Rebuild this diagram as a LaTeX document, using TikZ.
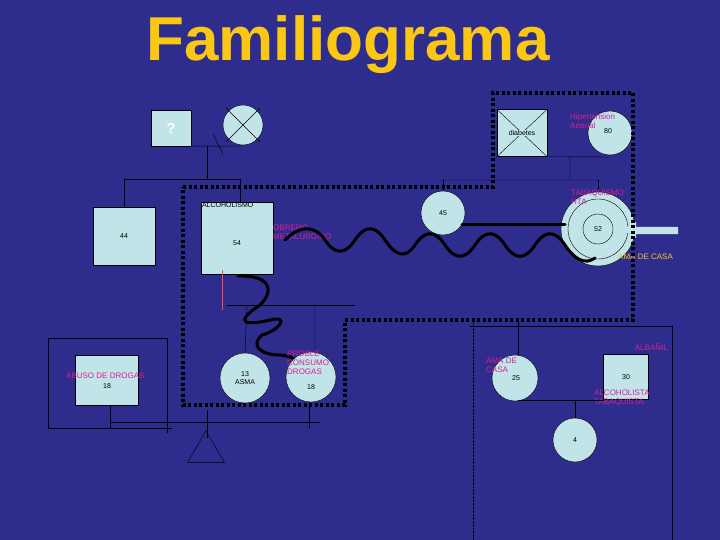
\documentclass[tikz,border=0pt]{standalone}
\usepackage{fontspec}
\setmainfont{Liberation Sans}
\usetikzlibrary{arrows.meta, positioning, shapes.geometric}
\definecolor{bgblue}{RGB}{46,44,140}
\definecolor{boxfill}{RGB}{192,228,232}
\definecolor{tag}{RGB}{220,30,150}
\definecolor{gold}{RGB}{250,200,20}
\tikzset{
  male/.style={draw=black, fill=boxfill, minimum size=#1, inner sep=0pt, font=\scriptsize},
  female/.style={draw=black, fill=boxfill, circle, minimum size=#1, inner sep=0pt, font=\scriptsize},
  note/.style={text=tag, font=\fontsize{8}{9}\selectfont, align=left, inner sep=0pt},
  kin/.style={draw=black, thin},
  bond/.style={draw=black, line width=3pt, line cap=round},
  frame/.style={draw=black, line width=3.5pt, dash pattern=on 3pt off 2.5pt}
}
\begin{document}
\begin{tikzpicture}[x=1pt, y=-1pt]
    \fill[bgblue] (0,0) rectangle (720,540);
    \useasboundingbox (0,0) rectangle (720,540);
    \node[text=gold, font=\fontsize{62}{66}\selectfont\bfseries] (title) at (348,45) {Familiograma};

    % grandparents, left side
    \node[male=36pt, minimum width=40pt, font=\Large\bfseries, text=white] (gf) at (171,128) {?};
    \node[female=40pt] (gm) at (243,125) {};
    \draw[kin] (226,108) -- (260,142) (260,108) -- (226,142);
    \draw[kin] (gf.south east) -- (243,146) (213,134) -- (223,155);
    \draw[kin] (207,146) -- (207,179) (124,179) -- (240,179);
    \node[male=58pt, minimum width=62pt] (u44) at (124,236) {44};
    \node[male=72pt] (f54) at (237,238) {};
    \node[font=\scriptsize] at (f54.center) [yshift=-5pt] {54};
    \node[font=\scriptsize, anchor=north west, inner sep=1pt] at (f54.north west) {ALCOHOLISMO};
    \draw[kin] (124,179) -- (u44.north) (240,179) -- (240,202);
    \node[note, anchor=west] at (273,232) {OBRERO\\METALURGICO};

    % grandparents, right side
    \node[male=47pt, minimum width=50pt] (gd) at (522,133) {};
    \draw[kin] (gd.north west) -- (gd.south east) (gd.south west) -- (gd.north east);
    \node[font=\scriptsize, fill=boxfill, inner sep=0pt] at (gd) {diabetes};
    \node[female=44pt] (g80) at (610,133) {};
    \node[font=\scriptsize] at (g80) [xshift=-2pt, yshift=2pt] {80};
    \node[note, anchor=south west] at (570,129) {Hipertension\\Arterial};
    \draw[kin] (gd.south east) -- (610,157) (570,157) -- (570,180) (440,180) -- (598,180);
    \node[female=44pt] (m45) at (443,213) {45};
    \draw[kin] (443,180) -- (m45.north);
    \node[female=74pt] (m52) at (598,229) {};
    \draw[kin] (m52) circle (30pt) (m52) circle (15pt);
    \node[font=\scriptsize] at (m52) {52};
    \draw[kin] (598,180) -- (m52.north);
    \fill[boxfill] (622,230) -- (636,222) -- (636,227) -- (678,227) -- (678,234) -- (636,234) -- (636,238) -- cycle;
    \node[note, anchor=west] at (571,197) {TABAQUISMO\\HTA};
    \node[note, text=gold, anchor=west] at (618,257) {AMA DE CASA};

    % relationship lines
    \draw[bond] (462,225) -- (565,225);
    \draw[bond] (285,240) .. controls (300,225) and (315,225) .. (325,240)
        .. controls (335,255) and (345,255) .. (355,240)
        .. controls (365,225) and (375,225) .. (385,240)
        .. controls (395,255) and (405,260) .. (415,245)
        .. controls (425,230) and (435,230) .. (445,245)
        .. controls (455,260) and (465,260) .. (475,245)
        .. controls (485,230) and (495,230) .. (505,245)
        .. controls (515,260) and (525,260) .. (535,245)
        .. controls (545,230) and (555,230) .. (565,245)
        .. controls (575,260) and (585,265) .. (595,258);
    \draw[bond] (238,276) .. controls (270,275) and (275,290) .. (260,305)
        .. controls (230,325) and (250,325) .. (270,320)
        .. controls (290,315) and (280,330) .. (262,335)
        .. controls (250,345) and (260,355) .. (280,355)
        .. controls (290,356) and (295,358) .. (295,362);
    \draw[red!70, thin] (222,270) -- (222,310);
    \draw[frame] (183,187) -- (493,187) -- (493,93) -- (633,93) -- (633,320)
        -- (345,320) -- (345,405) -- (183,405) -- cycle;

    % children of 54 and 45
    \draw[kin] (227,305) -- (355,305);
    \node[female=50pt, align=center] (s13) at (245,378) {13\\ASMA};
    \node[female=50pt] (s18) at (311,377) {};
    \node[font=\scriptsize] at (s18) [yshift=-10pt] {18};
    \node[note, anchor=west] at (287,363) {PROBLE\\CONSUMO\\DROGAS};
    \draw[kin] (247,305) -- (s13.north) (315,305) -- (315,352);

    % child of 44
    \draw[kin] (48,338) -- (167,338) (48,338) -- (48,428) -- (172,428) (167,338) -- (167,433);
    \node[male=50pt, minimum width=63pt] (c18) at (107,380) {};
    \node[font=\scriptsize] at (c18) [yshift=-6pt] {18};
    \node[note, anchor=west] at (66,376) {ABUSO DE DROGAS};
    \draw[kin] (110,405) -- (110,428) (110,422) -- (320,422) (309,402) -- (309,428);
    \draw[kin] (207,410) -- (207,438);
    \node[draw=black, isosceles triangle, isosceles triangle apex angle=60, shape border rotate=90, minimum height=32pt, inner sep=0pt] (tri) at (206,452) {};

    % right family
    \draw[kin] (470,326) -- (672,326) (672,326) -- (672,540);
    \draw[kin, densely dotted] (473,322) -- (473,540);
    \draw[kin] (518,322) -- (518,355);
    \node[female=46pt] (w25) at (515,378) {};
    \node[font=\scriptsize] at (w25) [xshift=1pt] {25};
    \node[note, anchor=west] at (486,365) {AMA DE\\CASA};
    \node[male=45pt] (h30) at (626,377) {30};
    \node[note, anchor=east] at (668,347) {ALBAÑIL};
    \node[note, anchor=west] at (594,398) {ALCOHOLISTA\\TABAQUISTA};
    \draw[kin] (518,400) -- (604,400) (575,400) -- (575,418);
    \node[female=44pt] (d4) at (575,440) {4};
\end{tikzpicture}
\end{document}
